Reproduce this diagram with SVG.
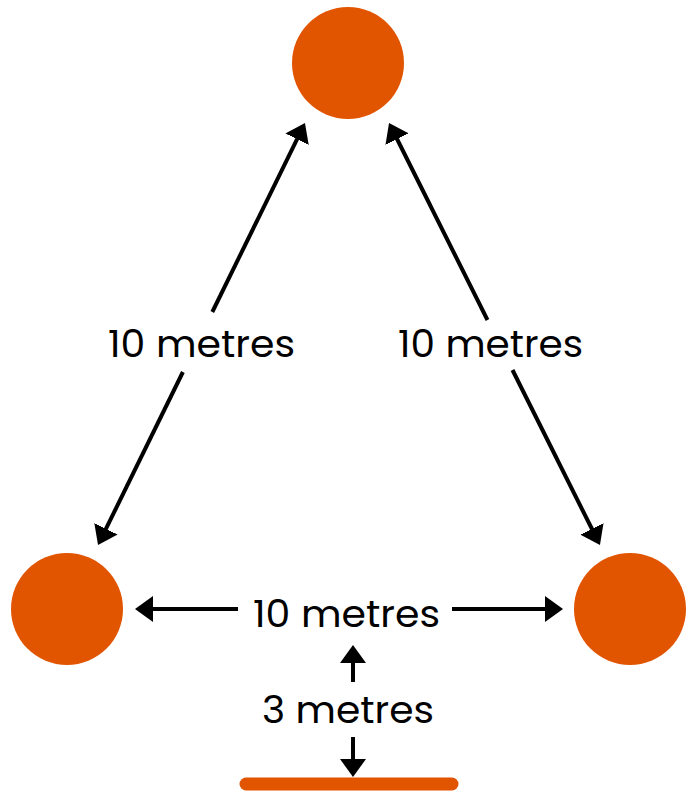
<svg xmlns="http://www.w3.org/2000/svg" width="686" height="792" viewBox="0 0 686 792">
<style>
.node{fill:#E15400}
.lbl{font-family:Poppins,"Noto Sans","Liberation Sans",sans-serif;font-size:38px;fill:#000;text-anchor:middle}
.con{stroke:#000;stroke-width:4;fill:none;marker-end:url(#ah)}
</style>
<defs>
<marker id="ah" markerUnits="userSpaceOnUse" viewBox="0 0 18 26" refX="4" refY="13" markerWidth="18" markerHeight="26" orient="auto">
<path d="M0,0 L18,13 L0,26 Z" fill="#000"/>
</marker>
</defs>
<rect width="686" height="792" fill="#fff"/>
<g id="top"><circle class="node" cx="348" cy="63" r="56"/></g>
<g id="left"><circle class="node" cx="67" cy="609" r="56"/></g>
<g id="right"><circle class="node" cx="630" cy="609" r="56"/></g>
<g id="bar"><line x1="246" y1="784" x2="452" y2="784" stroke="#E15400" stroke-width="13" stroke-linecap="round"/></g>
<g id="connectors">
<line class="con" x1="212.3" y1="312" x2="298.8" y2="135.6"/>
<line class="con" x1="182.9" y1="372" x2="104.2" y2="532.4"/>
<line class="con" x1="487.5" y1="320" x2="395.3" y2="135.5"/>
<line class="con" x1="512.5" y1="370" x2="593.7" y2="532.5"/>
<line class="con" x1="238" y1="609" x2="149" y2="609"/>
<line class="con" x1="452" y1="609" x2="549" y2="609"/>
<line class="con" x1="353" y1="682" x2="353" y2="659"/>
<line class="con" x1="353" y1="737" x2="353" y2="763"/>
</g>
<g id="labels">
<text class="lbl" x="201.5" y="357" textLength="187" lengthAdjust="spacingAndGlyphs">10 metres</text>
<text class="lbl" x="490.5" y="357" textLength="185" lengthAdjust="spacingAndGlyphs">10 metres</text>
<text class="lbl" x="346.5" y="627" textLength="187" lengthAdjust="spacingAndGlyphs">10 metres</text>
<text class="lbl" x="348" y="723" textLength="172" lengthAdjust="spacingAndGlyphs">3 metres</text>
</g>
</svg>
